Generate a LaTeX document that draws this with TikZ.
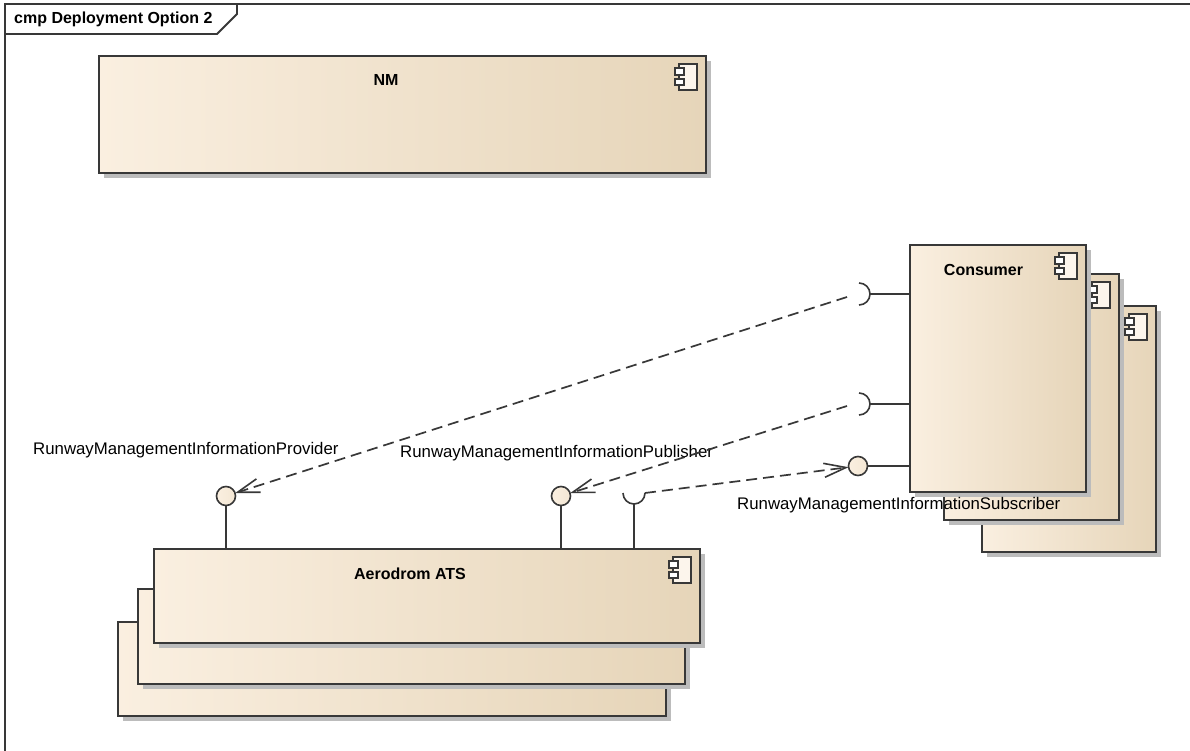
\documentclass[tikz,border=0pt]{standalone}
\usepackage{fontspec}
\setmainfont{Liberation Sans}
\usetikzlibrary{arrows.meta,shadows}
\definecolor{cL}{RGB}{250,239,224}
\definecolor{cR}{RGB}{230,213,185}
\definecolor{edge}{RGB}{56,56,56}
\definecolor{shad}{RGB}{188,188,188}
\begin{document}
\begin{tikzpicture}[x=1pt,y=-1pt,
  comp/.style={draw=edge, line width=1.8pt, left color=cL, middle color=cL, right color=cR,
    inner sep=0pt, outer sep=0pt,
    drop shadow={shadow xshift=5pt, shadow yshift=-5pt, fill=shad, draw=none, opacity=1}},
  ball/.style={circle, draw=edge, line width=1.6pt, minimum size=19pt, inner sep=0pt, outer sep=0pt,
    left color=cL, right color=cL!70!cR},
  stem/.style={draw=edge, line width=1.6pt},
  dep/.style={draw=edge, line width=1.7pt, dash pattern=on 11pt off 6pt,
    -{Straight Barb[length=22pt,width=14pt,line width=1.6pt]}},
  lab/.style={font=\fontsize{16.8}{20}\selectfont, inner sep=0pt, text=black},
  ttl/.style={font=\bfseries\fontsize{16}{19}\selectfont, inner sep=0pt, text=black},
  icon/.pic={
    \draw[edge, line width=1.2pt, fill=cL!60!white] (-27,8) rectangle (-9,34);
    \draw[edge, line width=1.2pt, fill=white] (-31,12) rectangle (-22,19);
    \draw[edge, line width=1.2pt, fill=white] (-31,23) rectangle (-22,29);
  }]
\useasboundingbox[fill=white] (0,0) rectangle (1190,751);

% frame
\draw[edge, line width=1.8pt] (5,751) -- (5,4) -- (1190,4);
\draw[edge, line width=1.8pt] (5,34) -- (217,34) -- (237,14) -- (237,4);
\node[ttl, anchor=base west] (frametitle) at (14,24) {cmp Deployment Option 2};

% NM
\node[comp, minimum width=607pt, minimum height=117pt] (nm) at (402.5,114.5) {};
\pic at (nm.north east) {icon};
\node[ttl, anchor=base] (nmlab) at (386,86) {NM};

% Consumer stack
\node[comp, minimum width=174pt, minimum height=246pt] (c3) at (1069,429) {};
\pic at (c3.north east) {icon};
\node[comp, minimum width=175pt, minimum height=246pt] (c2) at (1031.5,397) {};
\pic at (c2.north east) {icon};
\node[comp, minimum width=176pt, minimum height=247pt] (c1) at (998,368.5) {};
\pic at (c1.north east) {icon};
\node[ttl, anchor=base] (clab) at (983.5,275) {Consumer};

% Aerodrom stack
\node[comp, minimum width=548pt, minimum height=94pt] (a3) at (392,669) {};
\pic at (a3.north east) {icon};
\node[comp, minimum width=547pt, minimum height=95pt] (a2) at (411.5,636.5) {};
\pic at (a2.north east) {icon};
\node[comp, minimum width=546pt, minimum height=94pt] (a1) at (427,596) {};
\pic at (a1.north east) {icon};
\node[ttl, anchor=base] (alab) at (410,579) {Aerodrom ATS};

% interfaces on Aerodrom
\coordinate (pbc) at (226,496);
\coordinate (pubc) at (561,496);
\coordinate (asc) at (634,493);
\draw[stem] (pbc) -- (pbc |- a1.north);
\draw[stem] (pubc) -- (pubc |- a1.north);
\node[ball] (pb) at (pbc) {};
\node[ball] (pub) at (pubc) {};
\draw[stem] (asc) ++(-11,0) arc[start angle=180, end angle=0, radius=11];
\draw[stem] (asc) ++(0,11) -- (asc |- a1.north);
\coordinate (as) at (645,493);

% interfaces on Consumer
\coordinate (cq1) at (859,294);
\coordinate (cq2) at (859,404);
\coordinate (subc) at (858,466);
\draw[stem] (cq1) ++(0,-11) arc[start angle=-90, end angle=90, radius=11];
\draw[stem] (cq1) ++(11,0) -- (cq1 -| c1.west);
\draw[stem] (cq2) ++(0,-11) arc[start angle=-90, end angle=90, radius=11];
\draw[stem] (cq2) ++(11,0) -- (cq2 -| c1.west);
\draw[stem] (subc) -- (subc -| c1.west);
\node[ball] (sub) at (subc) {};
\coordinate (cs1) at (847,297);
\coordinate (cs2) at (847,406);

% labels
\node[lab, anchor=base west] (lprov) at (33,454) {RunwayManagementInformationProvider};
\node[lab, anchor=base west] (lpub) at (400,457) {RunwayManagementInformationPublisher};
\node[lab, anchor=base west] (lsub) at (737,509) {RunwayManagementInformationSubscriber};

% dependencies
\draw[dep] (cs1) -- (pb);
\draw[dep] (cs2) -- (pub);
\draw[dep] (as) -- (sub);
\end{tikzpicture}
\end{document}
